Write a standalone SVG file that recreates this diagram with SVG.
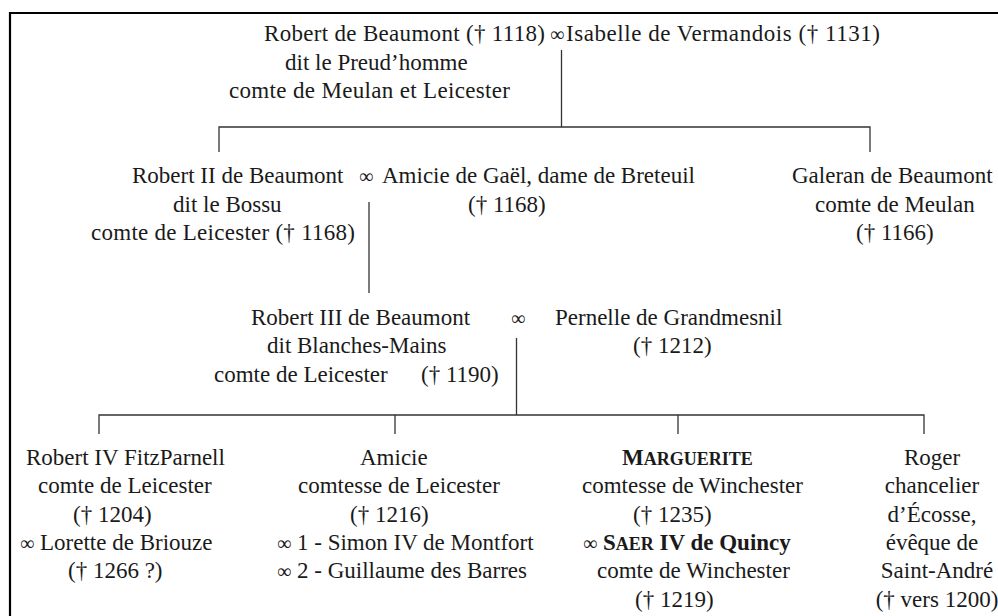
<svg xmlns="http://www.w3.org/2000/svg" width="998" height="616" viewBox="0 0 998 616">
<style>
text{font-family:'Liberation Serif','Tinos','Times New Roman','DejaVu Serif',serif;font-size:23px;fill:#1a1a1a}
.b{font-weight:bold}
.sc{font-size:18px}
.inf{font-size:20px}
.m{text-anchor:middle}
.ln{stroke:#333;stroke-width:1.3;fill:none}
.frame{stroke:#000;stroke-width:2.2;fill:none}
</style>
<rect width="998" height="616" fill="#fff"/>
<path class="frame" d="M10,616 V13 H998"/>
<g id="connectors">
<path class="ln" d="M561.5,50 V127"/>
<path class="ln" d="M219,152 V127 H870 V152"/>
<path class="ln" d="M369,202 V293"/>
<path class="ln" d="M516.5,338 V415"/>
<path class="ln" d="M99,434 V415 H924 V434"/>
<path class="ln" d="M395,415 V434"/>
<path class="ln" d="M678,415 V434"/>
</g>
<g font-family="Liberation Serif, Tinos, Times New Roman, DejaVu Serif, serif">
<g id="robert1">
<text x="264" y="41" textLength="281" lengthAdjust="spacing">Robert de Beaumont († 1118)</text>
<text x="285" y="70">dit le Preud’homme</text>
<text x="229" y="98" textLength="281" lengthAdjust="spacing">comte de Meulan et Leicester</text>
</g>
<text x="550" y="41" class="inf">∞</text>
<g id="isabelle">
<text x="566" y="41" textLength="314" lengthAdjust="spacing">Isabelle de Vermandois († 1131)</text>
</g>
<g id="robert2">
<text x="132" y="183">Robert II de Beaumont</text>
<text x="173" y="212">dit le Bossu</text>
<text x="91" y="240" textLength="264" lengthAdjust="spacing">comte de Leicester († 1168)</text>
</g>
<text x="359" y="183" class="inf">∞</text>
<g id="amicie-gael">
<text x="382" y="183">Amicie de Gaël, dame de Breteuil</text>
<text x="468" y="212">(† 1168)</text>
</g>
<g id="galeran">
<text x="792" y="183">Galeran de Beaumont</text>
<text x="815" y="212">comte de Meulan</text>
<text x="856" y="240">(† 1166)</text>
</g>
<g id="robert3">
<text x="251" y="325">Robert III de Beaumont</text>
<text x="267" y="353">dit Blanches-Mains</text>
<text x="214" y="382">comte de Leicester <tspan x="421">(† 1190)</tspan></text>
</g>
<text x="511" y="325" class="inf">∞</text>
<g id="pernelle">
<text x="555" y="325">Pernelle de Grandmesnil</text>
<text x="633" y="353">(† 1212)</text>
</g>
<g id="robert4">
<text x="26" y="465">Robert IV FitzParnell</text>
<text x="38" y="493">comte de Leicester</text>
<text x="73" y="522">(† 1204)</text>
<text x="20" y="550"><tspan class="inf">∞</tspan> Lorette de Briouze</text>
<text x="68" y="578">(† 1266 ?)</text>
</g>
<g id="amicie">
<text x="360" y="465">Amicie</text>
<text x="298" y="493">comtesse de Leicester</text>
<text x="350" y="522">(† 1216)</text>
<text x="277" y="550"><tspan class="inf">∞</tspan> 1 - Simon IV de Montfort</text>
<text x="277" y="578"><tspan class="inf">∞</tspan> 2 - Guillaume des Barres</text>
</g>
<g id="marguerite">
<text x="622" y="465" class="b">M<tspan class="sc">ARGUERITE</tspan></text>
<text x="582" y="493">comtesse de Winchester</text>
<text x="633" y="522">(† 1235)</text>
<text x="583" y="550"><tspan class="inf">∞</tspan> <tspan class="b">S<tspan class="sc">AER</tspan> IV de Quincy</tspan></text>
<text x="597" y="578">comte de Winchester</text>
<text x="635" y="607">(† 1219)</text>
</g>
<g id="roger">
<text x="932" y="465" class="m">Roger</text>
<text x="932" y="493" class="m">chancelier</text>
<text x="932" y="522" class="m">d’Écosse,</text>
<text x="932" y="550" class="m">évêque de</text>
<text x="937" y="578" class="m">Saint-André</text>
<text x="937" y="607" class="m">(† vers 1200)</text>
</g>
</g>
</svg>
